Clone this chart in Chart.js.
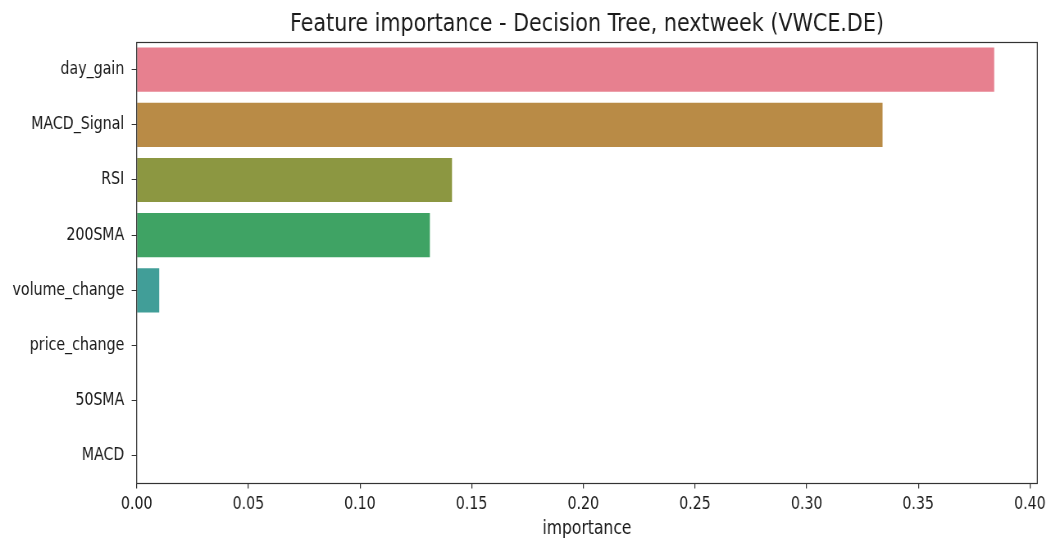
<!DOCTYPE html>
<html>
<head>
<meta charset="utf-8">
<script src="https://cdn.jsdelivr.net/npm/chart.js@4"></script>
<style>
  html, body { margin: 0; padding: 0; background: #ffffff; overflow: hidden; }
  /* a figura original tem o texto comprimido na horizontal */
  #wrap { width: 1282px; height: 538px; transform: scaleX(0.8198); transform-origin: 0 0; }
</style>
</head>
<body>
<div id="wrap"><canvas id="importanceChart" width="1282" height="538"></canvas></div>
<script>
// Dados do gráfico
const features = ["day_gain", "MACD_Signal", "RSI", "200SMA", "volume_change", "price_change", "50SMA", "MACD"];
const importance = [0.384, 0.334, 0.1412, 0.1313, 0.0101, 0, 0, 0];
const barColors = ["#e7808f", "#b98b46", "#8c9741", "#3fa364", "#419e98", "#4a9cbf", "#a38ce2", "#e06fcf"];
const xTicks = [0.00, 0.05, 0.10, 0.15, 0.20, 0.25, 0.30, 0.35, 0.40];

const FONT = "'DejaVu Sans', sans-serif";
const TEXT = "#1a1a1a";

// Moldura completa do eixo (estilo matplotlib)
const frame = {
    id: "frame",
    afterDraw(chart) {
        const a = chart.chartArea;
        const ctx = chart.ctx;
        ctx.save();
        ctx.strokeStyle = "#333333";
        ctx.lineWidth = 1.2;
        ctx.strokeRect(a.left, Math.round(a.top) + 0.5, a.right - a.left, Math.round(a.bottom - a.top));
        ctx.restore();
    },
};

new Chart(document.getElementById("importanceChart").getContext("2d"), {
    type: "bar",
    data: {
        labels: features,
        datasets: [
            {
                data: importance,
                backgroundColor: barColors,
                borderWidth: 0,
                barPercentage: 0.8,
                categoryPercentage: 1.0,
            },
        ],
    },
    options: {
        indexAxis: "y",
        responsive: false,
        animation: false,
        layout: { padding: { left: 0, right: 16.7, top: 0, bottom: 0 } },
        plugins: {
            legend: { display: false },
            tooltip: { enabled: false },
            title: {
                display: true,
                text: "Feature importance - Decision Tree, nextweek (VWCE.DE)",
                fullSize: false,
                color: TEXT,
                font: { family: FONT, size: 25.2, weight: "normal" },
                padding: { top: 9.4, bottom: 2.4 },
            },
        },
        scales: {
            x: {
                min: 0,
                max: 0.4033,
                afterBuildTicks: (scale) => {
                    scale.ticks = xTicks.map((v) => ({ value: v }));
                },
                afterFit: (scale) => {
                    scale.height = 54.5;
                },
                border: { display: false },
                grid: { drawOnChartArea: false, tickLength: 5, color: "#333333", lineWidth: 1.2 },
                ticks: {
                    padding: 6,
                    color: TEXT,
                    font: { family: FONT, size: 17.3 },
                    maxRotation: 0,
                    callback: (v) => Number(v).toFixed(2),
                },
                title: {
                    display: true,
                    text: "importance",
                    color: TEXT,
                    font: { family: FONT, size: 19 },
                    padding: { top: 0, bottom: -2 },
                },
            },
            y: {
                afterFit: (scale) => {
                    scale.width = 166.7;
                },
                border: { display: false },
                grid: { drawOnChartArea: false, tickLength: 6.1, color: "#333333", offset: false },
                ticks: {
                    padding: 9,
                    color: TEXT,
                    font: { family: FONT, size: 17.3 },
                },
            },
        },
    },
    plugins: [frame],
});
</script>
</body>
</html>
